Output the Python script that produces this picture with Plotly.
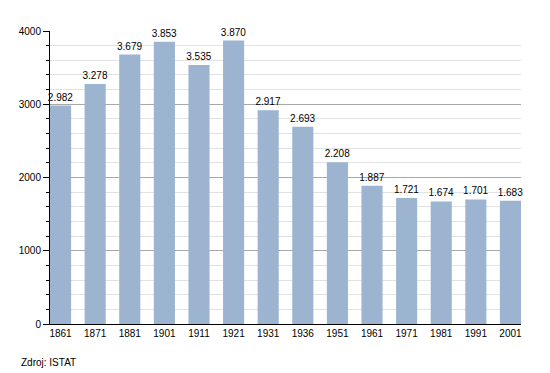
import plotly.graph_objects as go

years = ["1861", "1871", "1881", "1901", "1911", "1921", "1931", "1936",
         "1951", "1961", "1971", "1981", "1991", "2001"]
population = [2982, 3278, 3679, 3853, 3535, 3870, 2917, 2693,
              2208, 1887, 1721, 1674, 1701, 1683]
y_ticks = [0, 1000, 2000, 3000, 4000]
source_note = "Zdroj: ISTAT"

fig = go.Figure()
fig.add_trace(go.Bar(
    x=years,
    y=population,
    width=0.61,
    marker=dict(color="#9cb4d0", line=dict(width=0)),
    texttemplate="%{y:,d}",
    textposition="outside",
    constraintext="none",
    textfont=dict(family="Liberation Sans, Arial, sans-serif", size=10, color="#000000"),
    cliponaxis=False,
    hoverinfo="skip",
))

fig.update_layout(
    width=550,
    height=373,
    margin=dict(l=50, r=29, t=31, b=49),
    paper_bgcolor="#ffffff",
    plot_bgcolor="#ffffff",
    separators=",.",
    showlegend=False,
    font=dict(family="Liberation Sans, Arial, sans-serif", size=10, color="#000000"),
    xaxis=dict(
        type="category",
        range=[-0.305, 13.305],
        showline=True,
        linecolor="#000000",
        linewidth=1,
        ticks="",
        showgrid=False,
        tickfont=dict(size=10),
    ),
    yaxis=dict(
        range=[0, 4000],
        tickvals=y_ticks,
        showline=True,
        linecolor="#000000",
        linewidth=1,
        ticks="outside",
        ticklen=6,
        tickcolor="#000000",
        showgrid=True,
        gridcolor="#a8a8a8",
        gridwidth=1,
        zeroline=False,
        tickfont=dict(size=10),
        minor=dict(dtick=200, ticks="outside", ticklen=3, tickcolor="#000000",
                   showgrid=True, gridcolor="#e2e2e2", gridwidth=1),
    ),
    annotations=[dict(
        text=source_note, xref="paper", yref="paper",
        x=-0.066, y=-0.13, xanchor="left", yanchor="middle",
        showarrow=False, font=dict(size=10, color="#000000"),
    )],
)

fig.write_html("out.html",
               config={"displayModeBar": False},
               post_script="document.body.style.margin='0';document.body.style.overflow='hidden';")
